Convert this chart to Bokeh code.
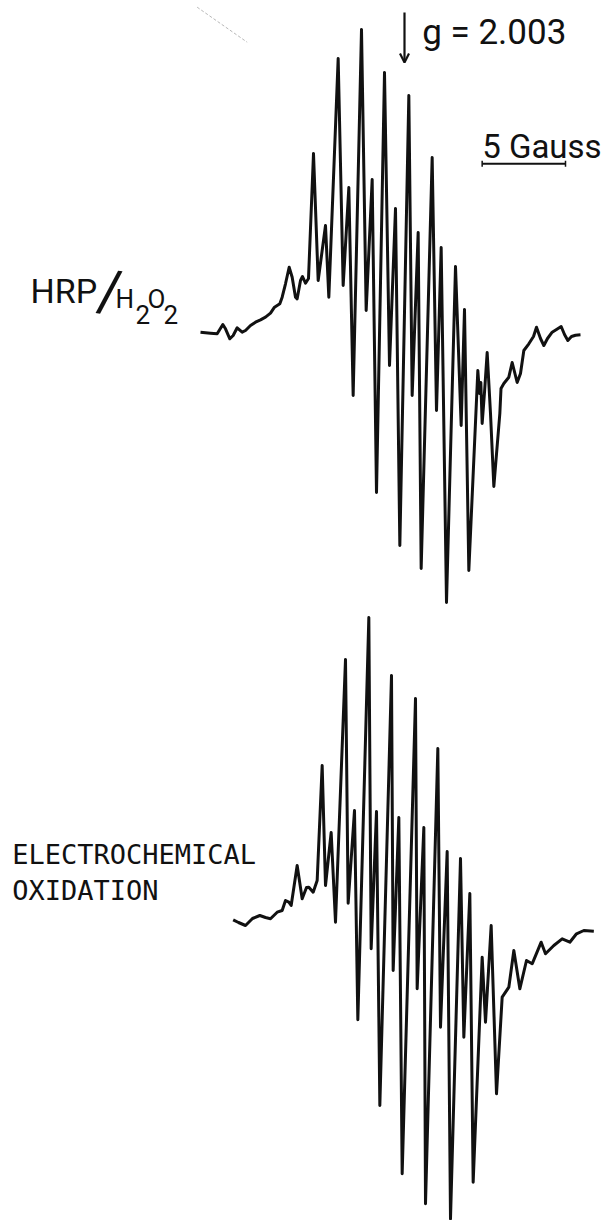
from bokeh.plotting import figure
from bokeh.models import Range1d, Label, Arrow, OpenHead
from bokeh.embed import file_html
from bokeh.resources import INLINE

# EPR first-derivative spectra: field offset from the g = 2.003 position (Gauss)
# and signal amplitude (arbitrary units).

# HRP / H2O2 generated radical
hrp_field = [-12.24, -11.64, -11.24, -10.90, -10.74, -10.48, -10.28, -10.04, -9.74, -9.54,
             -9.24, -8.94, -8.64, -8.34, -8.04, -7.80, -7.48, -7.34, -7.14, -6.92,
             -6.74, -6.54, -6.44, -6.24, -6.12, -5.94, -5.76, -5.46, -5.18, -4.74,
             -4.54, -3.98, -3.68, -3.34, -3.08, -2.58, -2.30, -1.94, -1.68, -1.20,
             -0.90, -0.54, -0.28, 0.26, 0.46, 0.82, 1.00, 1.66, 1.92, 2.20,
             2.52, 3.06, 3.40, 3.60, 3.86, 4.40, 4.50, 4.58, 4.66, 4.80,
             4.96, 5.16, 5.36, 5.72, 5.79, 5.96, 6.26, 6.46, 6.76, 6.96,
             7.16, 7.46, 7.74, 7.92, 8.16, 8.36, 8.58, 8.86, 9.12, 9.40,
             9.60, 9.80, 10.02, 10.26, 10.56]
hrp_signal = [0.13, 0.03, -0.03, 0.90, 0.47, -0.53, -0.20, 0.57, 0.13, 0.30,
              0.80, 1.13, 1.37, 1.63, 2.03, 2.63, 2.97, 3.63, 4.97, 6.63,
              5.63, 3.63, 3.47, 5.30, 5.70, 5.03, 5.50, 18.0, 5.30, 10.8,
              3.63, 27.5, 4.80, 14.6, -6.2, 30.4, 2.3, 15.4, -15.9, 26.1,
              -3.2, 12.5, -21.2, 23.8, -6.2, 10.1, -23.5, 17.6, -7.7, 8.6,
              -26.9, 6.7, -9.2, 2.4, -23.7, -3.7, -6.0, -4.9, -9.0, -5.9,
              -1.9, -8.0, -15.3, -8.0, -5.5, -5.0, -4.37, -2.9, -4.9, -4.0,
              -1.7, -1.03, -0.3, 0.63, -0.5, -1.2, -0.5, 0.13, 0.4, 0.7,
              -0.1, -0.7, -0.3, -0.17, -0.13]

# Electrochemically generated radical
ec_field = [-10.28, -9.96, -9.54, -9.12, -8.68, -8.34, -8.04, -7.64, -7.34, -7.14,
            -6.94, -6.80, -6.44, -6.14, -5.88, -5.74, -5.48, -5.24, -4.94, -4.74,
            -4.40, -4.14, -3.54, -3.38, -3.00, -2.80, -2.14, -2.00, -1.68, -1.48,
            -0.78, -0.68, -0.34, -0.14, 0.66, 0.76, 1.16, 1.26, 2.00, 2.16,
            2.56, 2.76, 3.36, 3.56, 3.92, 4.12, 4.66, 4.86, 5.20, 5.52,
            5.86, 6.26, 6.56, 6.92, 7.32, 7.66, 8.20, 8.46, 8.96, 9.46,
            9.92, 10.32, 10.76, 11.36]
ec_signal = [0.07, -0.2, -0.5, 0.2, 0.5, 0.3, 0.17, 0.83, 1.0, 2.0,
             1.83, 1.5, 5.5, 2.17, 3.3, 3.33, 2.83, 4.0, 15.5, 3.5,
             8.8, -0.17, 26.1, 1.73, 11.0, -9.93, 30.3, -2.83, 10.9, -18.5,
             24.5, -5.0, 10.3, -25.33, 22.2, -6.83, 9.3, -28.33, 17.2, -10.67,
             6.9, -29.83, 6.2, -11.67, 2.7, -26.17, -3.67, -10.17, -0.5, -17.33,
             -7.67, -6.67, -3.0, -6.83, -4.0, -4.33, -2.17, -3.33, -2.5, -1.83,
             -2.17, -1.33, -1.0, -1.07]

g_label = "g = 2.003"
scale_gauss = 5.0
scale_label = "5 Gauss"

# vertical placement of the second trace below the first
ec_offset = -58.7

INK = "#111111"

p = figure(width=615, height=1220, output_backend="svg", toolbar_location=None,
           x_axis_type=None, y_axis_type=None,
           x_range=Range1d(-24.24, 12.66), y_range=Range1d(-88.7, 33.3),
           min_border=0, min_border_left=0, min_border_right=0,
           min_border_top=0, min_border_bottom=0)
p.outline_line_color = None
p.grid.visible = False
p.background_fill_color = "white"
p.border_fill_color = "white"

p.line(hrp_field, hrp_signal, line_color=INK, line_width=3.0, line_join="round")
p.line(ec_field, [s + ec_offset for s in ec_signal], line_color=INK,
       line_width=3.0, line_join="round")

# faint stray pen stroke at the top left
p.line([-12.44, -9.44], [32.63, 29.13], line_color="#b8b8b8", line_width=1,
       line_dash="3 2")

# g-value marker
p.add_layout(Arrow(x_start=0, y_start=32.1, x_end=0, y_end=27.1,
                   line_color=INK, line_width=2.2,
                   end=OpenHead(size=9, line_color=INK, line_width=2.2)))
p.add_layout(Label(x=1.06, y=30.15, text=g_label, text_font="Roboto",
                   text_font_size="35px", text_color=INK, text_baseline="alphabetic"))

# field scale bar
bar_x0, bar_y = 4.66, 16.97
p.line([bar_x0, bar_x0 + scale_gauss], [bar_y, bar_y], line_color=INK, line_width=2)
p.segment(x0=[bar_x0, bar_x0 + scale_gauss], y0=[bar_y - 0.3, bar_y - 0.3],
          x1=[bar_x0, bar_x0 + scale_gauss], y1=[bar_y + 0.3, bar_y + 0.3],
          line_color=INK, line_width=1.5)
p.add_layout(Label(x=4.66, y=18.75, text=scale_label, text_font="Roboto",
                   text_font_size="33px", text_color=INK, text_baseline="alphabetic"))

# trace labels
lab = dict(text_color=INK, text_baseline="alphabetic")
p.add_layout(Label(x=-22.44, y=4.25, text="HRP", text_font="Roboto",
                   text_font_size="34px", **lab))
p.add_layout(Label(x=-17.68, y=4.25, text="/", text_font="Roboto",
                   text_font_size="58px", text_color=INK, text_align="center",
                   text_baseline="middle", angle=-0.12))
p.add_layout(Label(x=-17.34, y=3.45, text="H", text_font="Roboto",
                   text_font_size="26px", **lab))
p.add_layout(Label(x=-16.14, y=1.95, text="2", text_font="Roboto",
                   text_font_size="26px", **lab))
p.add_layout(Label(x=-15.42, y=3.45, text="O", text_font="Roboto",
                   text_font_size="26px", **lab))
p.add_layout(Label(x=-14.46, y=1.95, text="2", text_font="Roboto",
                   text_font_size="26px", **lab))

p.add_layout(Label(x=-23.54, y=-52.1, text="ELECTROCHEMICAL",
                   text_font="DejaVu Sans Mono", text_font_size="27px", **lab))
p.add_layout(Label(x=-23.54, y=-55.7, text="OXIDATION",
                   text_font="DejaVu Sans Mono", text_font_size="27px", **lab))

open("out.html", "w").write(file_html(p, INLINE))
